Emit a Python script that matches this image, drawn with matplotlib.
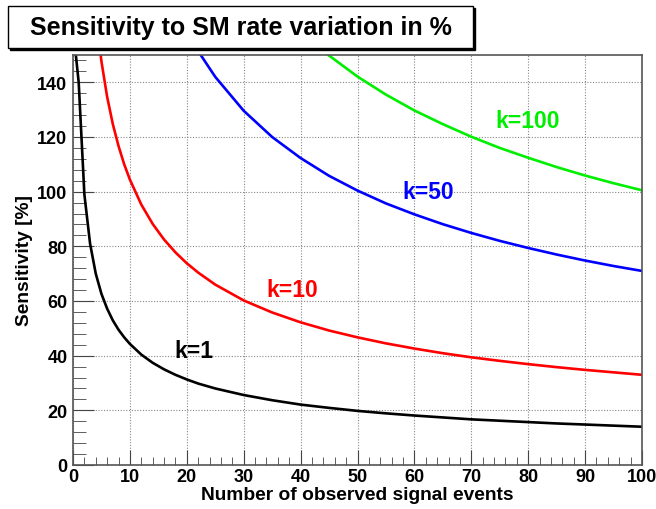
import matplotlib
matplotlib.use("Agg")
from matplotlib import pyplot as plt
from matplotlib.patches import Rectangle
from matplotlib.ticker import MultipleLocator

plt.rcParams['font.family'] = ['Liberation Sans', 'DejaVu Sans']
plt.rcParams['font.weight'] = 'bold'

# sensitivity curves, values
x_k1 = [0, 1, 2, 3, 4, 5, 6, 7, 8, 9, 10, 12, 14, 16, 18, 20, 22, 25, 30, 35, 40,
        45, 50, 55, 60, 65, 70, 75, 80, 85, 90, 95, 100]
s_k1 = [160, 140, 99, 81, 70, 62.6, 57.2, 52.9, 49.5, 46.7, 44.3, 40.4, 37.4, 35.0,
        33.0, 31.3, 29.8, 28.0, 25.6, 23.7, 22.1, 20.9, 19.8, 18.9, 18.1, 17.4,
        16.7, 16.2, 15.7, 15.2, 14.8, 14.4, 14.0]

x_k10 = [4, 5, 6, 7, 8, 9, 10, 12, 14, 16, 18, 20, 22, 25, 30, 35, 40, 45, 50, 55,
         60, 65, 70, 75, 80, 85, 90, 95, 100]
s_k10 = [165, 147.6, 134.7, 124.7, 116.7, 110, 104.4, 95.3, 88.2, 82.5, 77.8, 73.8,
         70.4, 66.0, 60.2, 55.8, 52.2, 49.2, 46.7, 44.5, 42.6, 40.9, 39.4, 38.1,
         36.9, 35.8, 34.8, 33.9, 33.0]

x_k50 = [20, 22, 25, 30, 35, 40, 45, 50, 55, 60, 65, 70, 75, 80, 85, 90, 95, 100]
s_k50 = [158.8, 151.4, 142.0, 129.6, 120.0, 112.3, 105.8, 100.4, 95.7, 91.7, 88.1,
         84.9, 82.0, 79.4, 77.0, 74.8, 72.8, 71.0]

x_k100 = [40, 45, 50, 55, 60, 65, 70, 75, 80, 85, 90, 95, 100]
s_k100 = [158.9, 149.8, 142.1, 135.5, 129.7, 124.7, 120.1, 116.0, 112.4, 109.0,
          105.9, 103.1, 100.5]

curves = [(x_k1, s_k1, 'black'), (x_k10, s_k10, 'red'),
          (x_k50, s_k50, 'blue'), (x_k100, s_k100, '#00ee00')]

labels = [("k=1", 17.8, 39.4, 'black'), ("k=10", 33.9, 61.8, 'red'),
          ("k=50", 57.8, 97.5, 'blue'), ("k=100", 74.2, 123.5, '#00ee00')]

W, H = 656, 510
fig = plt.figure(figsize=(W / 100, H / 100), dpi=100)
ax = fig.add_axes([73 / W, 1 - 466 / H, (642 - 73) / W, (466 - 56) / H])

for xs, ys, c in curves:
    ax.plot(xs, ys, color=c, lw=1.9, solid_joinstyle='round')

for txt, tx, ty, c in labels:
    ax.text(tx, ty, txt, color=c, fontsize=16.5, fontweight='bold')

ax.set_xlim(0, 100)
ax.set_ylim(0, 150)
ax.xaxis.set_major_locator(MultipleLocator(10))
ax.xaxis.set_minor_locator(MultipleLocator(2))
ax.yaxis.set_major_locator(MultipleLocator(20))
ax.yaxis.set_minor_locator(MultipleLocator(4))
ax.tick_params(which='both', direction='in', top=False, right=False,
               color='#444444', labelsize=13)
ax.tick_params(axis='x', which='major', length=11, pad=2)
ax.tick_params(axis='x', which='minor', length=6)
ax.tick_params(axis='y', which='major', length=15, pad=4)
ax.tick_params(axis='y', which='minor', length=9)
ax.grid(True, which='major', color='#888888', lw=0.8, linestyle=(0, (1, 1.5)))
for sp in ax.spines.values():
    sp.set_color('#555555')
    sp.set_linewidth(1.2)

ax.set_xlabel("Number of observed signal events", fontsize=13.8, fontweight='bold',
              labelpad=1)
ax.set_ylabel("Sensitivity [%]", fontsize=13.8, fontweight='bold', labelpad=3)

# title box with shadow
bx0, by0, bx1, by1 = 8, 7, 473, 49
fig.patches.append(Rectangle(((bx0 + 2) / W, 1 - (by1 + 2) / H), (bx1 - bx0) / W,
                             (by1 - by0) / H, transform=fig.transFigure,
                             facecolor='black', edgecolor='black', zorder=1))
fig.patches.append(Rectangle((bx0 / W, 1 - by1 / H), (bx1 - bx0) / W,
                             (by1 - by0) / H, transform=fig.transFigure,
                             facecolor='white', edgecolor='black', lw=1, zorder=2))
fig.text((bx0 + bx1) / 2 / W, 1 - (by0 + by1) / 2 / H,
         "Sensitivity to SM rate variation in %", ha='center', va='center',
         fontsize=18, fontweight='bold', zorder=3)

fig.savefig("out.png", dpi=100)
